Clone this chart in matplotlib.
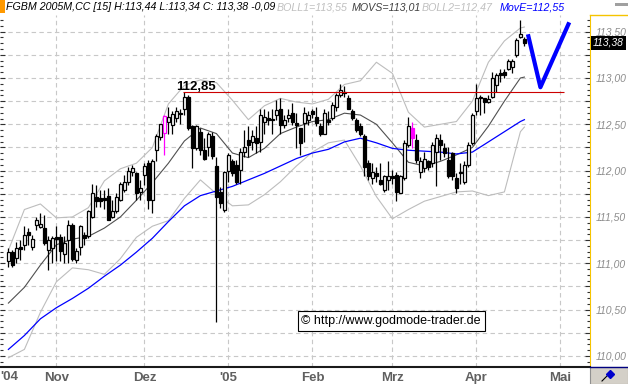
import numpy as np
import pandas as pd
import matplotlib
matplotlib.use('Agg')
from matplotlib import pyplot as plt
from matplotlib.ticker import MultipleLocator
from matplotlib.patches import Rectangle
from matplotlib.lines import Line2D

plt.rcParams['font.family'] = ['Liberation Sans', 'DejaVu Sans']

# daily bars FGBM 2005M, 14.10.2004 - 19.04.2005
opens = [
    111.02, 111.12, 111.06, 111.18, 111.20, 111.34, 111.18, 111.41, 111.39, 111.38,
    111.14, 111.16, 111.28, 111.28, 111.10, 111.25, 111.41, 111.04, 111.18, 111.31,
    111.29, 111.50, 111.72, 111.70, 111.70, 111.73, 111.50, 111.56, 111.68, 111.79,
    111.88, 111.98, 111.97, 111.77, 111.95, 112.08, 111.68, 112.22, 112.36, 112.41,
    112.53, 112.49, 112.57, 112.62, 112.67, 112.80, 112.48, 112.24, 112.42, 112.22,
    112.26, 112.37, 112.05, 111.77, 111.57, 112.00, 112.10, 112.06, 112.01, 112.20,
    112.33, 112.31, 112.35, 112.31, 112.53, 112.57, 112.56, 112.60, 112.66, 112.49,
    112.57, 112.62, 112.51, 112.46, 112.51, 112.55, 112.64, 112.58, 112.48, 112.40,
    112.55, 112.57, 112.69, 112.82, 112.85, 112.78, 112.64, 112.55, 112.48, 112.37,
    112.08, 111.92, 111.97, 111.90, 111.79, 111.90, 111.94, 111.95, 111.76, 111.92,
    112.28, 112.46, 112.33, 111.99, 112.03, 112.10, 112.08, 112.20, 112.33, 112.24,
    112.12, 112.19, 111.92, 111.99, 111.88, 112.06, 112.30, 112.64, 112.80, 112.78,
    112.74, 112.80, 112.92, 113.05, 113.07, 113.10, 113.12, 113.25, 113.44, 113.42,
]
highs = [
    111.17, 111.14, 111.23, 111.25, 111.40, 111.38, 111.31, 111.50, 111.54, 111.52,
    111.29, 111.29, 111.40, 111.32, 111.29, 111.47, 111.43, 111.16, 111.41, 111.34,
    111.58, 111.86, 111.85, 111.79, 111.79, 111.81, 111.68, 111.76, 111.88, 111.95,
    112.04, 112.06, 111.98, 111.90, 112.08, 112.12, 112.13, 112.39, 112.50, 112.60,
    112.69, 112.64, 112.69, 112.66, 112.85, 112.82, 112.49, 112.49, 112.46, 112.35,
    112.42, 112.42, 112.15, 111.82, 112.00, 112.19, 112.13, 112.12, 112.24, 112.44,
    112.48, 112.44, 112.48, 112.66, 112.67, 112.64, 112.67, 112.76, 112.78, 112.60,
    112.67, 112.73, 112.62, 112.46, 112.69, 112.64, 112.67, 112.69, 112.51, 112.67,
    112.64, 112.74, 112.84, 112.94, 112.91, 112.82, 112.66, 112.57, 112.51, 112.39,
    112.12, 112.08, 112.04, 112.08, 111.95, 112.10, 112.01, 111.99, 111.95, 112.33,
    112.58, 112.53, 112.40, 112.15, 112.20, 112.12, 112.31, 112.39, 112.39, 112.30,
    112.26, 112.20, 111.97, 112.08, 112.10, 112.31, 112.62, 112.94, 112.82, 112.78,
    112.82, 113.07, 113.05, 113.10, 113.10, 113.21, 113.21, 113.43, 113.63, 113.44,
]
lows = [
    110.96, 110.96, 111.00, 111.04, 111.14, 111.20, 111.14, 111.36, 111.38, 111.20,
    110.93, 111.00, 111.02, 111.02, 111.00, 111.00, 111.02, 111.00, 111.09, 111.20,
    111.27, 111.49, 111.61, 111.61, 111.59, 111.47, 111.49, 111.54, 111.67, 111.77,
    111.85, 111.94, 111.68, 111.68, 111.85, 111.59, 111.54, 112.10, 112.33, 112.17,
    112.39, 112.39, 112.53, 112.50, 112.60, 112.44, 112.03, 112.22, 112.17, 112.11,
    112.16, 112.13, 110.37, 111.60, 111.55, 111.88, 111.94, 111.86, 111.86, 112.15,
    112.15, 112.22, 112.19, 112.20, 112.40, 112.49, 112.40, 112.55, 112.40, 112.46,
    112.53, 112.49, 112.24, 112.17, 112.31, 112.49, 112.57, 112.48, 112.37, 112.39,
    112.49, 112.55, 112.64, 112.80, 112.80, 112.66, 112.55, 112.42, 112.37, 111.94,
    111.90, 111.86, 111.88, 111.85, 111.77, 111.79, 111.86, 111.67, 111.76, 111.90,
    112.26, 112.24, 112.08, 111.92, 111.99, 112.01, 112.04, 111.83, 112.12, 112.15,
    111.92, 111.90, 111.76, 111.86, 111.86, 112.04, 112.28, 112.60, 112.60, 112.62,
    112.73, 112.78, 112.85, 112.96, 113.00, 113.09, 113.05, 113.23, 113.43, 113.34,
]
closes = [
    111.12, 110.98, 111.17, 111.15, 111.30, 111.30, 111.26, 111.47, 111.42, 111.22,
    111.25, 111.27, 111.26, 111.13, 111.22, 111.41, 111.05, 111.13, 111.40, 111.27,
    111.56, 111.76, 111.67, 111.67, 111.68, 111.47, 111.56, 111.72, 111.86, 111.88,
    112.00, 112.03, 111.76, 111.81, 112.05, 111.68, 112.10, 112.37, 112.50, 112.59,
    112.58, 112.61, 112.64, 112.61, 112.80, 112.46, 112.24, 112.48, 112.22, 112.13,
    112.39, 112.16, 111.72, 111.65, 111.98, 112.17, 111.97, 111.88, 112.20, 112.26,
    112.28, 112.37, 112.30, 112.60, 112.58, 112.55, 112.55, 112.65, 112.49, 112.55,
    112.60, 112.53, 112.49, 112.30, 112.62, 112.60, 112.61, 112.51, 112.40, 112.62,
    112.53, 112.71, 112.82, 112.87, 112.84, 112.67, 112.57, 112.44, 112.40, 112.04,
    111.94, 111.99, 111.94, 111.86, 111.94, 111.94, 111.92, 111.77, 111.94, 112.30,
    112.48, 112.35, 112.11, 112.10, 112.13, 112.04, 112.28, 112.35, 112.28, 112.19,
    111.94, 111.94, 111.81, 111.97, 112.06, 112.28, 112.60, 112.78, 112.78, 112.74,
    112.77, 113.00, 113.03, 113.03, 113.03, 113.18, 113.18, 113.41, 113.47, 113.38,
]
marked_bars = [39, 101]

# indicator readings (bar number -> value)
ind_bars = list(range(0, 129, 4)) + [129]
movs = [110.57, 110.74, 110.98, 111.20, 111.26, 111.29, 111.38, 111.50, 111.68, 111.87,
        112.08, 112.32, 112.46, 112.40, 112.19, 112.14, 112.24, 112.40, 112.47, 112.53,
        112.55, 112.62, 112.60, 112.50, 112.30, 112.09, 112.05, 112.10, 112.17, 112.25,
        112.48, 112.75, 113.00, 113.01]
boll_up = [111.14, 111.58, 111.64, 111.49, 111.50, 111.60, 111.89, 112.02, 112.08, 112.25,
           112.72, 112.92, 112.98, 112.95, 112.76, 112.55, 112.70, 112.78, 112.74, 112.72,
           112.77, 112.93, 112.97, 113.17, 113.05, 112.63, 112.47, 112.50, 112.53, 112.75,
           113.17, 113.40, 113.54, 113.55]
boll_dn = [109.98, 110.07, 110.47, 110.80, 110.95, 110.93, 110.88, 111.05, 111.28, 111.40,
           111.46, 111.70, 111.90, 111.75, 111.62, 111.63, 111.74, 111.88, 112.05, 112.20,
           112.30, 112.33, 112.05, 111.72, 111.48, 111.58, 111.67, 111.72, 111.77, 111.78,
           111.73, 111.77, 112.42, 112.47]
move = [110.07, 110.22, 110.40, 110.52, 110.62, 110.73, 110.86, 110.98, 111.12, 111.27,
        111.45, 111.62, 111.73, 111.78, 111.83, 111.90, 111.97, 112.05, 112.13, 112.19,
        112.23, 112.31, 112.35, 112.30, 112.24, 112.22, 112.21, 112.20, 112.18, 112.20,
        112.31, 112.42, 112.53, 112.55]

resistance = 112.85
forecast_bars = [130, 133, 140]
forecast_vals = [113.45, 112.90, 113.58]

holidays = ['2004-12-24', '2004-12-31', '2005-03-25', '2005-03-28']
month_labels = ['Nov', 'Dez', "'05", 'Feb', 'Mrz', 'Apr', 'Mai']
first_label = "'04"
W, H = 628, 384


def dec(v):
    return f'{v:.2f}'.replace('.', ',')


def draw_candles(ax):
    o, h, l, c = map(np.array, (opens, highs, lows, closes))
    idx = np.arange(len(c))
    up = c >= o
    edge = np.array(['black'] * len(c), dtype=object)
    face = np.where(up, 'white', 'black').astype(object)
    for i in marked_bars:
        edge[i] = '#ff00ff'
        if not up[i]:
            face[i] = '#ff00ff'
    ax.vlines(idx, l, h, colors=list(edge), lw=0.9, zorder=3)
    ax.bar(idx, np.abs(c - o), bottom=np.minimum(o, c), width=0.6,
           color=list(face), edgecolor=list(edge), linewidth=0.9, zorder=4)


fig = plt.figure(figsize=(W / 100, H / 100), dpi=100)
ax = fig.add_axes([0, 17 / H, 590 / W, 352 / H])

draw_candles(ax)
ax.plot(ind_bars, boll_up, color='#bdbdbd', lw=0.8, zorder=2)
ax.plot(ind_bars, boll_dn, color='#bdbdbd', lw=0.8, zorder=2)
ax.plot(ind_bars, movs, color='#505050', lw=0.8, zorder=2)
ax.plot(ind_bars, move, color='#0000ff', lw=0.9, zorder=2)

peak = int(np.argmax(highs[:60]))
ax.hlines(resistance, peak - 0.3, forecast_bars[-1] - 1, color='#cc0000', lw=0.8, zorder=5)
ax.annotate(dec(resistance), xy=(peak, resistance), xytext=(-8, 2),
            textcoords='offset pixels', ha='left', va='baseline',
            fontsize=9.5, fontweight='bold')
ax.plot(forecast_bars, forecast_vals, color='#0000ff', lw=3, zorder=6)

# month axis
days = pd.bdate_range('2004-10-14', '2005-05-31')
days = days[~days.isin(pd.to_datetime(holidays))]
month_pos = [i for i in range(1, len(days)) if days[i].month != days[i - 1].month]
ax.set_xticks(month_pos, month_labels, fontsize=9.5, fontweight='bold', color='#606060')
ax.tick_params(axis='x', length=0, pad=3.5)
fig.text(0, 1 - 377 / H, first_label, fontsize=9.5, fontweight='bold',
         color='#606060', ha='left', va='center')

ax.set_xlim(-2.1, 145.4)
ax.set_ylim(109.88, 113.68)

yt = np.arange(110.0, 113.6, 0.25)
ax.set_yticks(yt, [dec(v) if round(v * 4) % 2 == 0 else '' for v in yt],
              fontsize=7.5, fontstyle='italic', color='#8c8c8c')
ax.yaxis.set_minor_locator(MultipleLocator(0.0625))
ax.yaxis.tick_right()
ax.tick_params(axis='y', which='both', direction='in', left=True, right=True,
               labelleft=False, labelright=True, color='#303030', pad=4)
ax.tick_params(axis='y', which='major', length=3.5, width=0.8)
ax.tick_params(axis='y', which='minor', length=2, width=0.8)

ax.grid(True, which='major', color='#c8c8c8', linestyle=(0, (4, 3)), linewidth=0.8)
ax.set_axisbelow(True)
for s in ('left', 'top'):
    ax.spines[s].set_visible(False)
ax.spines['right'].set_color('#f5c400')
ax.spines['bottom'].set_color('#1a1a1a')
ax.spines['bottom'].set_linewidth(1.5)

# last price box
ax.annotate(dec(closes[-1]), xy=(1, closes[-1]), xycoords=('axes fraction', 'data'),
            xytext=(3, 0), textcoords='offset pixels', ha='left', va='center',
            color='white', fontsize=7.5, fontstyle='italic',
            bbox=dict(boxstyle='square,pad=0.2', fc='black', ec='none'))

ax.text(391 / 590, (367 - 321) / 352, '\u00a9 http://www.godmode-trader.de',
        transform=ax.transAxes, ha='center', va='center', fontsize=9,
        bbox=dict(boxstyle='square,pad=0.3', fc='white', ec='black', lw=0.8), zorder=7)

# header, each part at its own left edge (pixels)
change = closes[-1] - closes[-2]
segments = [
    (6, f'FGBM 2005M,CC [15] H:{dec(highs[-1])} L:{dec(lows[-1])} C: {dec(closes[-1])} {dec(change)}', 'black'),
    (277, f'BOLL1={dec(boll_up[-1])}', '#c0c0c0'),
    (352, f'MOVS={dec(movs[-1])}', '#404040'),
    (422, f'BOLL2={dec(boll_dn[-1])}', '#c0c0c0'),
    (500, f'MovE={dec(move[-1])}', '#0000ff'),
]
for x, txt, col in segments:
    fig.text(x / W, 1 - 7 / H, txt, fontsize=7.7, fontstyle='italic', color=col,
             ha='left', va='center')

# frame decorations
fig.patches.append(Rectangle((0, 1 - 13 / H), 5 / W, 13 / H, transform=fig.transFigure,
                             fc='#ff9900', ec='none'))
fig.patches.append(Rectangle((615 / W, 1 - 6 / H), 13 / W, 3 / H, transform=fig.transFigure,
                             fc='#a0a0a0', ec='none'))
fig.lines.append(Line2D([590 / W, 1], [1 - 15 / H] * 2, transform=fig.transFigure,
                        color='#f5c400', lw=1))
fig.patches.append(Rectangle((590 / W, 0), 38 / W, 17 / H, transform=fig.transFigure,
                             fc='#d4d0c8', ec='#909090', lw=0.8))
fig.lines.append(Line2D([590 / W, 1], [17 / H] * 2, transform=fig.transFigure,
                        color='#000080', lw=1))
fig.lines.append(Line2D([602 / W, 609 / W], [3 / H, 10 / H], transform=fig.transFigure,
                        color='black', lw=0.8))
fig.lines.append(Line2D([610 / W], [10 / H], transform=fig.transFigure, marker='D',
                        markersize=4.5, color='#0000cc', lw=0))

fig.savefig('out.png', dpi=100)
